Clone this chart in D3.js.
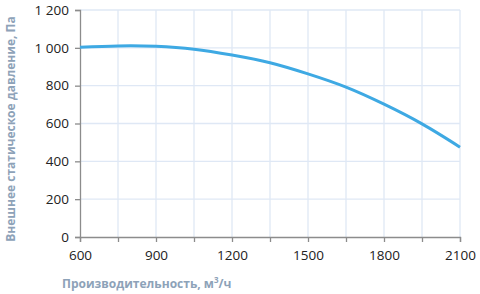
<!DOCTYPE html>
<html><head><meta charset="utf-8">
<script src="https://cdn.jsdelivr.net/npm/d3@7"></script>
<style>
body{margin:0;background:#fff;}
svg{display:block;}
text{font-family:"Open Sans","Liberation Sans",sans-serif;}
</style></head>
<body><svg id="c" width="480" height="294"></svg>
<script>
const flow = [600, 750, 900, 1050, 1200, 1350, 1500, 1650, 1800, 1950, 2100];
const pressure = [1003, 1010, 1008, 993, 962, 921, 862, 792, 702, 598, 475];
const xTicks = [600, 900, 1200, 1500, 1800, 2100];
const xGrid = [600, 750, 900, 1050, 1200, 1350, 1500, 1650, 1800, 1950, 2100];
const yTicks = [0, 200, 400, 600, 800, 1000, 1200];
const xTitle = "Производительность, м";
const yTitle = "Внешнее статическое давление, Па";

const svg = d3.select("#c");
const x = d3.scaleLinear().domain([600, 2100]).range([80, 460]);
const y = d3.scaleLinear().domain([0, 1200]).range([237, 10]);
const grid = "#dfe8f5", axisC = "#8c8c8c";

svg.append("g").selectAll("line").data(xGrid.slice(1)).join("line")
  .attr("x1", d => x(d)).attr("x2", d => x(d)).attr("y1", y(1200)).attr("y2", y(0))
  .attr("stroke", grid).attr("stroke-width", 1.3);
svg.append("g").selectAll("line").data(yTicks.slice(1)).join("line")
  .attr("x1", x(600)).attr("x2", x(2100)).attr("y1", d => y(d)).attr("y2", d => y(d))
  .attr("stroke", grid).attr("stroke-width", 1.3);

const fmt2 = d => d >= 1000 ? String(d).slice(0,1) + " " + String(d).slice(1) : String(d);

const ya = svg.append("g").attr("transform", `translate(${x(600)},0)`)
  .call(d3.axisLeft(y).tickValues(yTicks).tickSize(5).tickPadding(6).tickFormat(fmt2));
ya.select(".domain").attr("stroke", axisC).attr("stroke-width", 1.3);
ya.selectAll(".tick line").attr("stroke", axisC).attr("stroke-width", 1.3);
ya.selectAll("text").attr("fill", "#222").attr("font-size", 13.5);

const xa = svg.append("g").attr("transform", `translate(0,${y(0)})`)
  .call(d3.axisBottom(x).tickValues(xGrid).tickSize(5).tickPadding(8)
    .tickFormat(d => xTicks.includes(d) ? String(d) : ""));
xa.select(".domain").attr("stroke", axisC).attr("stroke-width", 1.3);
xa.selectAll(".tick line").attr("stroke", axisC).attr("stroke-width", 1.3);
xa.selectAll("text").attr("fill", "#222").attr("font-size", 13.5);

const line = d3.line().x((d, i) => x(flow[i])).y(d => y(d)).curve(d3.curveCatmullRom.alpha(0.5));
svg.append("path").datum(pressure).attr("d", line)
  .attr("fill", "none").attr("stroke", "#3ea9e3").attr("stroke-width", 3);

const xt = svg.append("text").attr("x", 62).attr("y", 288)
  .attr("fill", "#8da2b8").attr("font-weight", "bold").attr("font-size", 12)
  .attr("font-family", "'Liberation Sans',Arial,sans-serif");
xt.append("tspan").text(xTitle);
xt.append("tspan").attr("dy", -5).attr("font-size", 8).text("3");
xt.append("tspan").attr("dy", 5).text("/ч");

svg.append("text").attr("transform", "translate(15,129) rotate(-90)")
  .attr("text-anchor", "middle").attr("fill", "#8da2b8").attr("font-weight", "bold")
  .attr("font-size", 12).attr("font-family", "'Liberation Sans',Arial,sans-serif")
  .text(yTitle);
</script></body></html>
